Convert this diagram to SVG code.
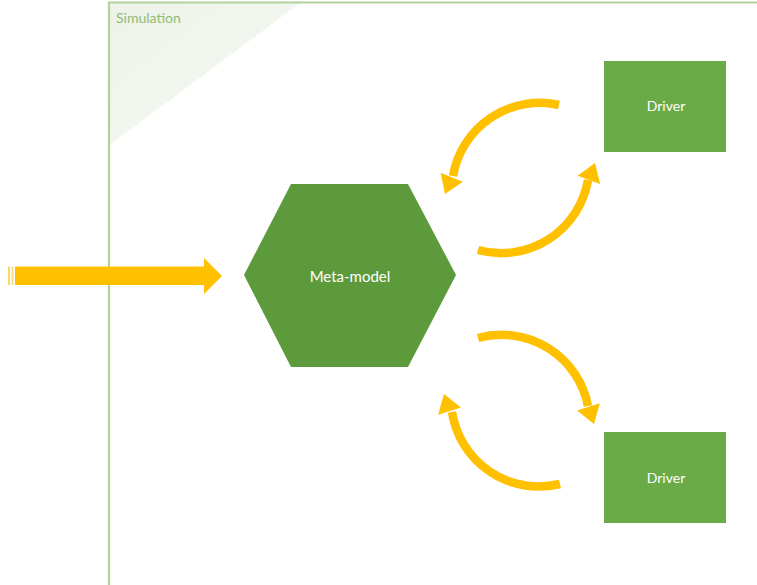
<svg xmlns="http://www.w3.org/2000/svg" xmlns:xlink="http://www.w3.org/1999/xlink" width="757" height="585" viewBox="0 0 757 585">
  <defs>
    <style>
      .lbl { font-family: Lato, "Open Sans", "Liberation Sans", sans-serif; fill: #ffffff; text-anchor: middle; }
      .arc { fill: none; stroke: #FFC000; stroke-width: 8.5; }
      .head { fill: #FFC000; }
      .driver { fill: #6aab47; }
    </style>
    <linearGradient id="shade" x1="0" y1="0" x2="1" y2="1">
      <stop offset="0" stop-color="#edf3e9"/>
      <stop offset="0.7" stop-color="#f3f7f1"/>
      <stop offset="1" stop-color="#f8faf7"/>
    </linearGradient>
    <polygon id="ah" points="0,0 -18,-12 -18,12"/>
  </defs>

  <rect width="757" height="585" fill="#ffffff"/>

  <g id="simulation">
    <polygon points="110,3 300,3 110,145" fill="url(#shade)"/>
    <path d="M109,586 V2.5 H758" fill="none" stroke="#b3d19c" stroke-width="2.2"/>
    <text x="116" y="23" font-family="Lato, 'Open Sans', 'Liberation Sans', sans-serif" font-size="14" fill="#8fbb72">Simulation</text>
  </g>

  <g id="input-arrow">
    <rect x="15" y="266.5" width="190" height="18.5" fill="#FFC000"/>
    <rect x="8" y="266.5" width="2" height="18.5" fill="#FFC000" opacity="0.6"/>
    <rect x="11.5" y="266.5" width="2" height="18.5" fill="#FFC000" opacity="0.5"/>
    <polygon points="204,258 222,276 204,294" fill="#FFC000"/>
  </g>

  <g id="meta-model">
    <polygon points="244,275 291,184 408,184 456,275 408,367 291,367" fill="#5c9a3c"/>
    <text class="lbl" x="350" y="282" font-size="15">Meta-model</text>
  </g>

  <g id="driver-top">
    <rect class="driver" x="604" y="61" width="122" height="91"/>
    <text class="lbl" x="666" y="111" font-size="14">Driver</text>
  </g>

  <g id="driver-bottom">
    <rect class="driver" x="604" y="432" width="122" height="91"/>
    <text class="lbl" x="666" y="483" font-size="14">Driver</text>
  </g>

  <g id="connectors">
    <path class="arc" d="M559,105 A88,88 0 0,0 453,176"/>
    <use xlink:href="#ah" class="head" transform="translate(445,194) rotate(112)"/>
    <path class="arc" d="M478,250 A88,88 0 0,0 588,180"/>
    <use xlink:href="#ah" class="head" transform="translate(595,163) rotate(-70)"/>
    <path class="arc" d="M478,338 A88,88 0 0,1 588,406"/>
    <use xlink:href="#ah" class="head" transform="translate(594,424) rotate(72)"/>
    <path class="arc" d="M560,484 A88,88 0 0,1 452,412"/>
    <use xlink:href="#ah" class="head" transform="translate(444,394) rotate(-108)"/>
  </g>
</svg>
